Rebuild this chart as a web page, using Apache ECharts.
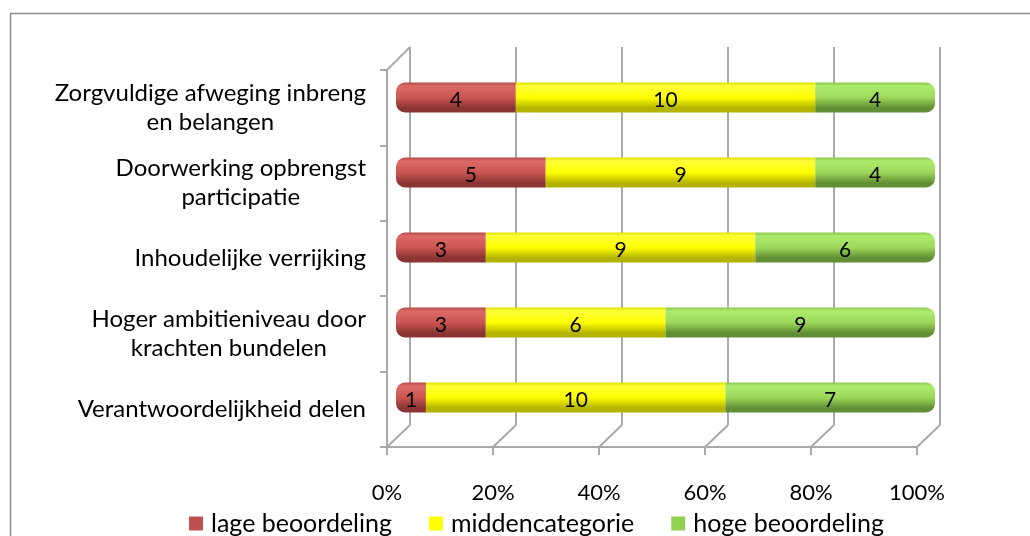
<!DOCTYPE html>
<html>
<head>
<meta charset="utf-8">
<script src="https://cdn.jsdelivr.net/npm/echarts@6/dist/echarts.min.js"></script>
<style>
  html, body { margin: 0; padding: 0; background: #fff; }
  #chart { width: 1030px; height: 536px; }
</style>
</head>
<body>
<div id="chart"></div>
<script>
// categories, bottom to top
const categories = [
  'Verantwoordelijkheid delen',
  'Hoger ambitieniveau door\nkrachten bundelen',
  'Inhoudelijke verrijking',
  'Doorwerking opbrengst\nparticipatie',
  'Zorgvuldige afweging inbreng\nen belangen'
]
const seriesNames = ['lage beoordeling', 'middencategorie', 'hoge beoordeling']
const lage = [1, 3, 3, 5, 4]
const midden = [10, 6, 9, 9, 10]
const hoge = [7, 9, 6, 4, 4]
const xTicks = [0, 20, 40, 60, 80, 100]

const counts = [lage, midden, hoge]
const totals = categories.map((c, i) => lage[i] + midden[i] + hoge[i])
const pct = (arr) => arr.map((v, i) => (v / totals[i]) * 100)

const FONT = 'Lato'
const gridColor = '#a9a9a9'
const flatColors = ['#c0504d', '#ffff00', '#92d050']

const cyl = (edge, light, main, dark) => new echarts.graphic.LinearGradient(0, 0, 0, 1, [
  { offset: 0, color: edge },
  { offset: 0.12, color: light },
  { offset: 0.5, color: main },
  { offset: 0.85, color: dark },
  { offset: 1, color: dark }
])
const fills = [
  cyl('#b44a47', '#dc6a66', '#cb5552', '#8a3533'),
  cyl('#e0e000', '#ffff3a', '#ffff00', '#b4b400'),
  cyl('#8cc850', '#acec6c', '#9dd85a', '#628f35')
]
const radii = [[9, 0, 0, 9], 0, [0, 9, 9, 0]]

const chart = echarts.init(document.getElementById('chart'))

chart.setOption({
  animation: false,
  backgroundColor: '#fff',
  textStyle: { fontFamily: FONT },
  grid: [
    // back wall
    { left: 410, right: 90, top: 47, bottom: 111 },
    // front floor / axes
    { left: 387, right: 113, top: 70, bottom: 89 },
    // bars (middle depth)
    { left: 396, right: 95, top: 60, bottom: 101 }
  ],
  xAxis: [
    {
      gridIndex: 0, type: 'value', min: 0, max: 100, interval: 20,
      axisLine: { show: false }, axisTick: { show: false }, axisLabel: { show: false },
      splitLine: { show: true, lineStyle: { color: gridColor, width: 2 } }
    },
    {
      gridIndex: 1, type: 'value', min: 0, max: 100, interval: 20,
      axisLine: { show: true, lineStyle: { color: gridColor, width: 2 } },
      axisTick: { show: true, length: 8, lineStyle: { color: gridColor, width: 2 } },
      splitLine: { show: false },
      axisLabel: {
        margin: 35, fontSize: 22, color: '#000', fontFamily: FONT,
        formatter: (v) => v + '%'
      }
    },
    { gridIndex: 2, type: 'value', min: 0, max: 100, show: false }
  ],
  yAxis: [
    { gridIndex: 0, type: 'category', data: categories, show: false },
    {
      gridIndex: 1, type: 'category', data: categories,
      axisLine: { show: true, lineStyle: { color: gridColor, width: 2 } },
      axisTick: { show: true, length: 7, lineStyle: { color: gridColor, width: 2 } },
      splitLine: { show: false },
      axisLabel: {
        margin: 21, color: '#000', fontSize: 24, fontFamily: FONT, lineHeight: 29,
        formatter: (v) => v.split('\n').map((l) => '{c|' + l + '}').join('\n'),
        rich: { c: { align: 'center', fontSize: 24, lineHeight: 29, fontFamily: FONT, color: '#000' } }
      }
    },
    { gridIndex: 2, type: 'category', data: categories, show: false }
  ],
  legend: {
    data: seriesNames.map((n, i) => ({ name: n, itemStyle: { color: flatColors[i] } })),
    left: 184,
    top: 506,
    itemWidth: 14,
    itemHeight: 14,
    itemGap: 37,
    icon: 'rect',
    textStyle: { fontSize: 25, color: '#000', fontFamily: FONT, padding: [0, 0, 0, 3] }
  },
  series: seriesNames.map((name, s) => ({
    name,
    type: 'bar',
    stack: 'total',
    xAxisIndex: 2,
    yAxisIndex: 2,
    barWidth: 30,
    data: pct(counts[s]),
    itemStyle: { color: fills[s], borderRadius: radii[s] },
    label: {
      show: true,
      position: 'inside',
      color: '#000',
      fontSize: 21,
      fontFamily: FONT,
      offset: [0, 3],
      formatter: (p) => String(counts[s][p.dataIndex])
    }
  }))
})

// 3D frame: connect floor ticks to back wall, left wall top
const lineStyle = { stroke: gridColor, lineWidth: 2 }
const fr = chart.getModel().getComponent('grid', 1).coordinateSystem.getRect()
const br = chart.getModel().getComponent('grid', 0).coordinateSystem.getRect()
const elements = xTicks.map((t) => {
  const front = chart.convertToPixel({ gridIndex: 1 }, [t, 0])
  const back = chart.convertToPixel({ gridIndex: 0 }, [t, 0])
  return {
    type: 'line',
    shape: { x1: front[0], y1: fr.y + fr.height, x2: back[0], y2: br.y + br.height },
    style: lineStyle, z: 1
  }
})
elements.push({
  type: 'line',
  shape: { x1: fr.x, y1: fr.y, x2: br.x, y2: br.y },
  style: lineStyle, z: 1
})
// outer chart border
elements.push({
  type: 'rect',
  shape: { x: 10.5, y: 13.5, width: 1040, height: 560 },
  style: { fill: 'none', stroke: '#8c8c8c', lineWidth: 1.5 },
  z: 0
})
chart.setOption({ graphic: elements })
</script>
</body>
</html>
